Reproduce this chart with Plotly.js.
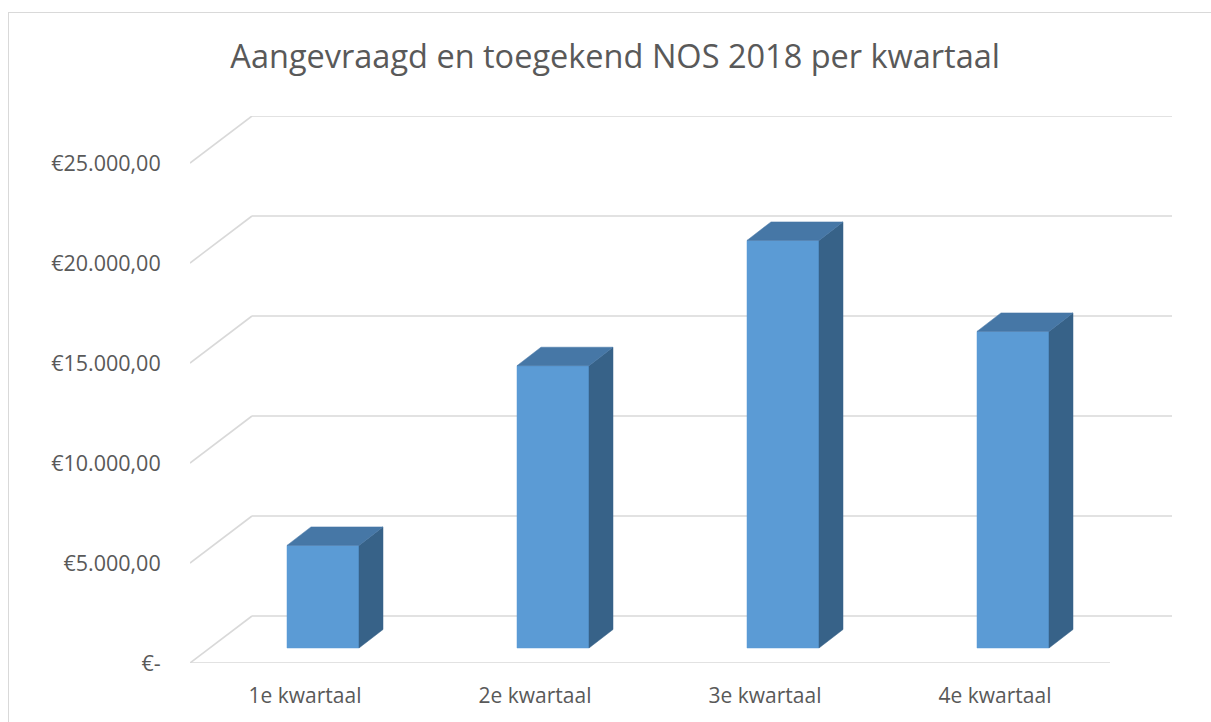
<!DOCTYPE html>
<html>
<head>
<meta charset="utf-8">
<script src="https://cdn.plot.ly/plotly-3.0.1.min.js"></script>
<style>
  html, body { margin: 0; padding: 0; background: #ffffff; }
  #frame { position: absolute; left: 8px; top: 12px; width: 1220px; height: 730px;
           border-left: 1.5px solid #d9d9d9; border-top: 1.5px solid #d9d9d9; box-sizing: border-box; }
  #chart { position: absolute; left: 0; top: 0; width: 1211px; height: 722px; }
</style>
</head>
<body>
<div id="frame"></div>
<div id="chart"></div>
<script>
// ---- data ----
const categories = ['1e kwartaal', '2e kwartaal', '3e kwartaal', '4e kwartaal'];
const values = [5130, 14115, 20380, 15830];
const tickValues = [0, 5000, 10000, 15000, 20000, 25000];
const tickLabels = ['€-', '€5.000,00', '€10.000,00', '€15.000,00', '€20.000,00', '€25.000,00'];

// ---- pseudo-3D projection (pixel offsets converted to axis units) ----
const PX_PER_CAT = 230;     // pixels per category unit
const UNITS_PER_PX = 50;    // value units per pixel
const WALL_DX = 62 / PX_PER_CAT, WALL_DY = 47 * UNITS_PER_PX;
const FRONT_DX = 18 / PX_PER_CAT, FRONT_DY = 15 * UNITS_PER_PX;
const BAR_DX = 24 / PX_PER_CAT, BAR_DY = 18.5 * UNITS_PER_PX;
const HALF_W = 36 / PX_PER_CAT;

const colFront = '#5B9BD5', colTop = '#4677A6', colSide = '#376288';
const gridCol = '#D9D9D9';

const traces = [];
function poly(xs, ys, color) {
  traces.push({
    type: 'scatter', mode: 'lines', x: xs.concat([xs[0]]), y: ys.concat([ys[0]]),
    fill: 'toself', fillcolor: color, line: {color: color, width: 0.5},
    hoverinfo: 'skip', showlegend: false
  });
}
values.forEach((v, i) => {
  const x0 = i + FRONT_DX - HALF_W, x1 = i + FRONT_DX + HALF_W;
  const yb = FRONT_DY, yt = FRONT_DY + v;
  poly([x0, x1, x1, x0], [yb, yb, yt, yt], colFront);
  poly([x1, x1 + BAR_DX, x1 + BAR_DX, x1], [yb, yb + BAR_DY, yt + BAR_DY, yt], colSide);
  poly([x0, x1, x1 + BAR_DX, x0 + BAR_DX], [yt, yt, yt + BAR_DY, yt + BAR_DY], colTop);
});

const xMin = -0.5, xMax = categories.length - 0.5;
const shapes = [];
tickValues.forEach(t => {
  shapes.push({type: 'line', layer: 'below', xref: 'x', yref: 'y',
    x0: xMin + WALL_DX, x1: xMax + WALL_DX, y0: t + WALL_DY, y1: t + WALL_DY,
    line: {color: gridCol, width: 1.6}});
  shapes.push({type: 'line', layer: 'below', xref: 'x', yref: 'y',
    x0: xMin, x1: xMin + WALL_DX, y0: t, y1: t + WALL_DY,
    line: {color: gridCol, width: 1.6}});
});
shapes.push({type: 'line', layer: 'below', xref: 'x', yref: 'y',
  x0: xMin, x1: xMax, y0: 0, y1: 0, line: {color: gridCol, width: 1.6}});

const font = {family: '"Open Sans", sans-serif', color: '#595959'};

const layout = {
  width: 1211, height: 722,
  paper_bgcolor: 'rgba(0,0,0,0)', plot_bgcolor: 'rgba(0,0,0,0)',
  margin: {l: 190, r: 39, t: 116, b: 59},
  title: {text: 'Aangevraagd en toegekend NOS 2018 per kwartaal',
    font: Object.assign({}, font, {size: 32.5}),
    xref: 'container', yref: 'container', x: 0.508, y: 1 - 57 / 722,
    xanchor: 'center', yanchor: 'middle'},
  xaxis: {range: [xMin, xMax + WALL_DX], showgrid: false, zeroline: false, showline: false,
    tickmode: 'array', tickvals: categories.map((c, i) => i), ticktext: categories,
    ticks: 'outside', ticklen: 14, tickcolor: 'rgba(0,0,0,0)',
    tickfont: Object.assign({}, font, {size: 21}), fixedrange: true},
  yaxis: {range: [0, tickValues[tickValues.length - 1] + WALL_DY], showgrid: false, zeroline: false,
    showline: false, tickmode: 'array', tickvals: tickValues, ticktext: tickLabels,
    ticks: 'outside', ticklen: 24, tickcolor: 'rgba(0,0,0,0)',
    tickfont: Object.assign({}, font, {size: 21.5}), fixedrange: true},
  shapes: shapes,
  showlegend: false
};

Plotly.newPlot('chart', traces, layout, {displayModeBar: false, staticPlot: true});
</script>
</body>
</html>
